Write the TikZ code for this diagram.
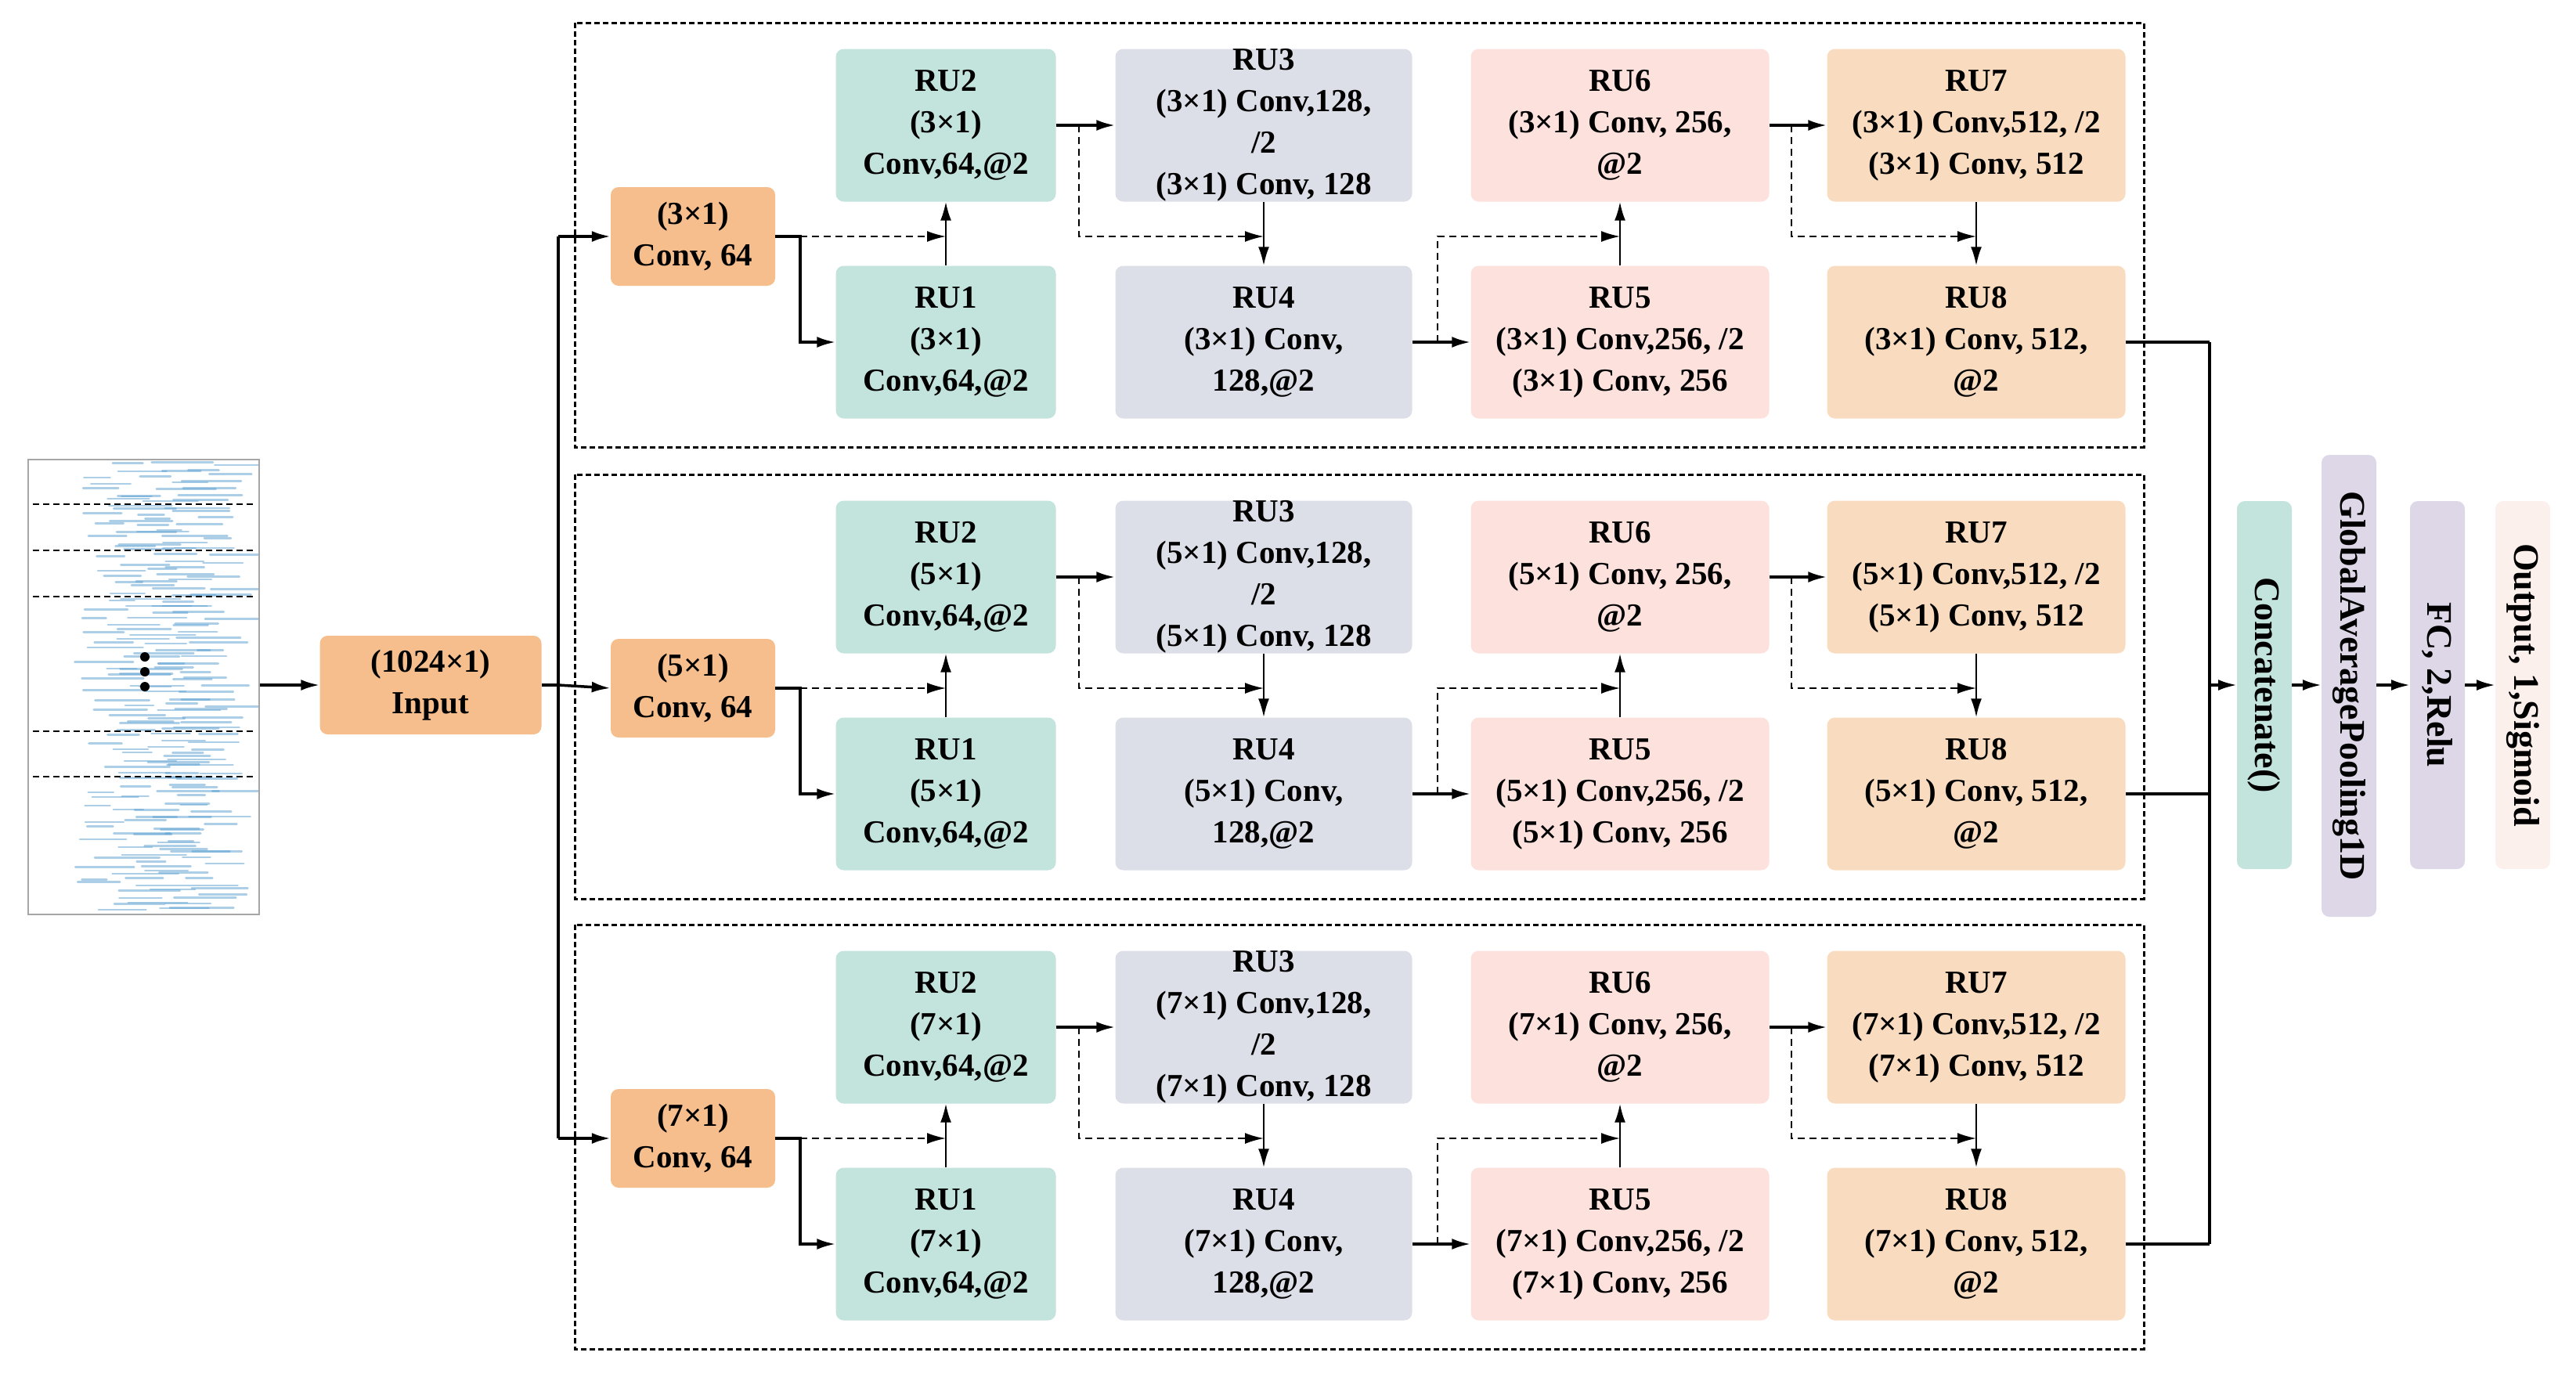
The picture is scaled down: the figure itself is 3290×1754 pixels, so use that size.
\documentclass[tikz,border=0pt]{standalone}
\usepackage{fontspec}
\setmainfont{Liberation Serif}
\usetikzlibrary{arrows.meta}
\definecolor{cOr}{HTML}{F6BE8D}
\definecolor{cTe}{HTML}{C3E3DD}
\definecolor{cGr}{HTML}{DDDFE8}
\definecolor{cPk}{HTML}{FCE1DC}
\definecolor{cPe}{HTML}{F9DCBF}
\definecolor{cPu}{HTML}{DDD7E7}
\definecolor{cOu}{HTML}{FCF0EC}
\definecolor{cWv}{HTML}{5A9FD0}
\begin{document}
\begin{tikzpicture}[x=1pt,y=-1pt,
  box/.style={rounded corners=10pt,draw=none,inner sep=0pt,align=center,
    font=\fontsize{41}{53}\selectfont\bfseries},
  ru/.style={box,minimum width=281pt,minimum height=195pt},
  rw/.style={box,minimum width=381pt,minimum height=195pt},
  vb/.style={box,minimum height=70pt,rotate=-90,font=\fontsize{46}{55}\selectfont\bfseries},
  arr/.style={line width=3.5pt,-{Latex[length=24pt,width=14pt]}},
  ln/.style={line width=3.5pt},
  da/.style={line width=1.8pt,dash pattern=on 9pt off 6pt,-{Latex[length=24pt,width=14pt]}},
  frame/.style={line width=3pt,dash pattern=on 7pt off 4pt}]
\useasboundingbox (0,0) rectangle (3290,1754);
% waveform
\begin{scope}
\clip (36,587) rectangle (331,1168);
\pgfmathsetseed{7}
\foreach \j in {0,...,72}{
  \foreach \k in {1,2,3}{
    \pgfmathsetmacro{\yy}{592+\j*7.9+rand*3}
    \pgfmathsetmacro{\xa}{85+\k*50+rand*40}
    \pgfmathsetmacro{\ln}{30+rnd*55}
    \draw[cWv,opacity=0.5,line width=2.6pt,line cap=round] (\xa,\yy) -- ++(\ln,0);
  }}
\end{scope}
\node[draw=gray!70,line width=2pt,minimum width=295pt,minimum height=581pt,inner sep=0pt] (wave) at (183.5,877.5) {};
\foreach \yy in {644,703,762,934,992}{
  \draw[line width=1.5pt,dash pattern=on 8pt off 5pt] (42,\yy) -- (325,\yy);}
\foreach \yy in {839,858,877}{\fill (185,\yy) circle (6pt);}
% input
\node[box,fill=cOr,minimum width=283pt,minimum height=126pt] (in) at (550,875) {(1024×1)\\Input};
\draw[arr] (wave.east |- in.west) -- (in.west);
% blocks
\foreach \k/\dy/\p in {3/0/a,5/577/b,7/1152/c}{
  \draw[frame] (734,29+\dy) rectangle (2738,571+\dy);
  \node[box,fill=cOr,minimum width=210pt,minimum height=126pt] (\p conv) at (885,302+\dy) {(\k×1)\\Conv, 64};
  \node[ru,fill=cTe] (\p ru2) at (1208,160+\dy) {RU2\\(\k×1)\\Conv,64,@2};
  \node[ru,fill=cTe] (\p ru1) at (1208,437+\dy) {RU1\\(\k×1)\\Conv,64,@2};
  \node[rw,fill=cGr,minimum width=379pt] (\p ru3) at (1614,160+\dy) {RU3\\(\k×1) Conv,128,\\/2\\(\k×1) Conv, 128};
  \node[rw,fill=cGr,minimum width=379pt] (\p ru4) at (1614,437+\dy) {RU4\\(\k×1) Conv,\\128,@2};
  \node[rw,fill=cPk] (\p ru6) at (2069,160+\dy) {RU6\\(\k×1) Conv, 256,\\@2};
  \node[rw,fill=cPk] (\p ru5) at (2069,437+\dy) {RU5\\(\k×1) Conv,256, /2\\(\k×1) Conv, 256};
  \node[rw,fill=cPe] (\p ru7) at (2524,160+\dy) {RU7\\(\k×1) Conv,512, /2\\(\k×1) Conv, 512};
  \node[rw,fill=cPe] (\p ru8) at (2524,437+\dy) {RU8\\(\k×1) Conv, 512,\\@2};
  % connectors
  \draw[arr] (\p conv.east) -- ++(32,0) |- (\p ru1.west);
  \draw[da] (\p conv.east) ++(32,0) -- (\p ru1.north |- \p conv.east);
  \draw[arr,line width=2.5pt] (\p ru1.north) -- (\p ru2.south);
  \draw[arr] (\p ru2.east) -- (\p ru3.west);
  \draw[da] (\p ru2.east) ++(29,0) |- (\p ru4.north |- \p conv.east);
  \draw[arr,line width=2.5pt] (\p ru3.south) -- (\p ru4.north);
  \draw[arr] (\p ru4.east) -- (\p ru5.west);
  \draw[da] (\p ru4.east) ++(32,0) |- (\p ru5.north |- \p conv.east);
  \draw[arr,line width=2.5pt] (\p ru5.north) -- (\p ru6.south);
  \draw[arr] (\p ru6.east) -- (\p ru7.west);
  \draw[da] (\p ru6.east) ++(28,0) |- (\p ru8.north |- \p conv.east);
  \draw[arr,line width=2.5pt] (\p ru7.south) -- (\p ru8.north);
  \draw[ln] (\p ru8.east) -- (2822,437+\dy);
}
% trunk
\coordinate (tt) at (713,302);
\coordinate (tb) at (713,1454);
\draw[ln] (in.east) -- (713,875);
\draw[ln] (tt) -- (tb);
\draw[arr] (tt) -- (aconv.west);
\draw[arr] (713,875) -- (bconv.west);
\draw[arr] (tb) -- (cconv.west);
% head
\node[vb,fill=cTe,minimum width=470pt] (cat) at (2892,875) {Concatenate()};
\node[vb,fill=cPu,minimum width=590pt] (gap) at (3000,876) {GlobalAveragePooling1D};
\node[vb,fill=cPu,minimum width=470pt] (fc) at (3113,875) {FC, 2,Relu};
\node[vb,fill=cOu,minimum width=470pt] (out) at (3222,875) {Output, 1,Sigmoid};
\coordinate (ct) at (2822,437);
\coordinate (cb) at (2822,1589);
\coordinate (cm) at (2822,875);
\coordinate (catW) at (2857,875);
\coordinate (catE) at (2927,875);
\coordinate (gapW) at (2965,875);
\coordinate (gapE) at (3035,875);
\coordinate (fcW) at (3078,875);
\coordinate (fcE) at (3148,875);
\coordinate (outW) at (3187,875);
\draw[ln] (ct) -- (cb);
\draw[arr] (cm) -- (catW);
\draw[arr] (catE) -- (gapW);
\draw[arr] (gapE) -- (fcW);
\draw[arr] (fcE) -- (outW);
\end{tikzpicture}
\end{document}
